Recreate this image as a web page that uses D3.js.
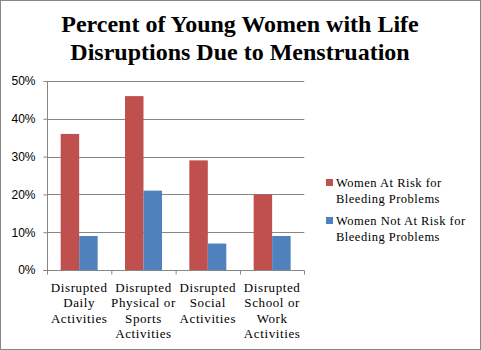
<!DOCTYPE html>
<html><head><meta charset="utf-8">
<script src="https://cdn.jsdelivr.net/npm/d3@7"></script>
<style>body{margin:0;background:#fff}svg{display:block}</style>
</head><body>
<script>
const categories = [
  ["Disrupted","Daily","Activities"],
  ["Disrupted","Physical or","Sports","Activities"],
  ["Disrupted","Social","Activities"],
  ["Disrupted","School or","Work","Activities"]
];
const seriesNames = [["Women At Risk for","Bleeding Problems"],["Women Not At Risk for","Bleeding Problems"]];
const atRisk = [0.36, 0.46, 0.29, 0.20];
const notAtRisk = [0.09, 0.21, 0.07, 0.09];
const yTicks = [0, 0.1, 0.2, 0.3, 0.4, 0.5];
const colors = ["#C0504D", "#4F81BD"];
const titleLines = ["Percent of Young Women with Life", "Disruptions Due to Menstruation"];

const SERIF = "'Liberation Serif', monospace";
const SANS = "'Liberation Sans', monospace";
const W = 481, H = 350;
const svg = d3.select("body").append("svg").attr("width", W).attr("height", H);
svg.append("rect").attr("x",0.5).attr("y",0.5).attr("width",W-1).attr("height",H-1)
  .attr("fill","#fff").attr("stroke","#868686");

svg.append("g").selectAll("text").data(titleLines).join("text")
  .style("font-family",SERIF).attr("text-anchor","middle")
  .attr("font-weight","bold").attr("font-size",24)
  .attr("x",240).attr("y",(d,i)=>32+i*28).text(d=>d);

const catIdx = categories.map((c,i)=>i);
const x = d3.scaleBand().domain(catIdx).range([47,304.3]).padding(0);
const x1 = d3.scaleBand().domain([0,1]).range([0,x.bandwidth()]).paddingInner(0).paddingOuter(0.74);
const y = d3.scaleLinear().domain([0,0.5]).range([270,81]);

// gridlines
svg.append("g").selectAll("line").data(yTicks.filter(t=>t>0)).join("line")
  .attr("x1",47).attr("x2",304.3).attr("y1",d=>Math.round(y(d))+0.5).attr("y2",d=>Math.round(y(d))+0.5)
  .attr("stroke","#868686").attr("stroke-width",1);

// bars
const data = [atRisk, notAtRisk];
data.forEach((vals,s)=>{
  svg.append("g").selectAll("rect").data(vals).join("rect")
    .attr("x",(d,i)=>x(i)+x1(s)).attr("width",x1.bandwidth())
    .attr("y",d=>y(d)).attr("height",d=>y(0)-y(d)).attr("fill",colors[s]);
});

// y axis
const yAxis = d3.axisLeft(y).tickValues(yTicks).tickFormat(d3.format(".0%")).tickSize(4).tickPadding(8);
const gy = svg.append("g").attr("transform","translate(47.5,0)").call(yAxis);
gy.attr("font-family",null);
gy.selectAll("path,line").attr("stroke","#868686");
gy.select(".domain").attr("d","M0,81V270");
gy.selectAll("text").style("font-family",SANS).attr("font-size",12).attr("fill","#000");

// x axis
const gx = svg.append("g").attr("transform","translate(0,270.5)");
gx.append("line").attr("x1",43).attr("x2",304.3).attr("stroke","#868686");
gx.selectAll("line.t").data([0,1,2,3,4]).join("line").attr("class","t")
  .attr("x1",d=>d<4?x(d)+0.5:304.5).attr("x2",d=>d<4?x(d)+0.5:304.5).attr("y1",0).attr("y2",4).attr("stroke","#868686");

const catLines = categories.flatMap((lines,i)=>lines.map((t,j)=>({t,i,j})));
svg.append("g").selectAll("text").data(catLines).join("text")
  .style("font-family",SERIF).attr("font-size",13).style("letter-spacing","0.6px")
  .attr("text-anchor","middle").attr("fill","#000")
  .attr("x",d=>x(d.i)+x.bandwidth()/2).attr("y",d=>291.5+d.j*15.5).text(d=>d.t);

// legend
const lg = svg.append("g");
seriesNames.forEach((lines,s)=>{
  const y0 = 183 + s*38;
  lg.append("rect").attr("x",326).attr("y",y0-4).attr("width",7).attr("height",7).attr("fill",colors[s]);
  lines.forEach((t,j)=>{
    lg.append("text").style("font-family",SERIF).attr("font-size",12.5).style("letter-spacing","0.5px")
      .attr("fill","#000").attr("x",336).attr("y",y0+4+j*16).text(t);
  });
});
</script>
</body></html>
